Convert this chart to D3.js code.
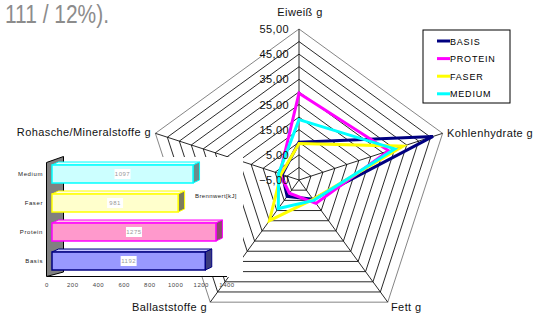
<!DOCTYPE html>
<html>
<head>
<meta charset="utf-8">
<script src="https://cdn.jsdelivr.net/npm/d3@7/dist/d3.min.js"></script>
<style>
  body { margin: 0; background: #fff; }
  text { font-family: "Liberation Sans", Arial, sans-serif; }
</style>
</head>
<body>
<script>
// radar chart (nutrients per series) with a small 3D bar chart of Brennwert laid over it

// radar axes, clockwise from the top
let axes = ["Eiweiß g", "Kohlenhydrate g", "Fett g", "Ballaststoffe g", "Rohasche/Mineralstoffe g"]
let seriesNames = ["BASIS", "PROTEIN", "FASER", "MEDIUM"]
let basis = [10, 51, 4.5, 3, 2]
let protein = [29.5, 32.5, 6.5, 1.5, 3]
let faser = [9.5, 38.5, 4.5, 15, 2.5]
let medium = [19, 35, 5, 9, 3.5]
let radarTicks = [-5, 5, 15, 25, 35, 45, 55]

// bar chart values
let barCats = ["Medium", "Faser", "Protein", "Basis"]
let brennwert = [1097, 981, 1275, 1192]
let barTicks = [0, 200, 400, 600, 800, 1000, 1200, 1400]

let seriesColors = ["#000080", "#ff00ff", "#ffff00", "#00ffff"]

let width = 542, height = 316

let svg = d3.select("body")
    .append("svg")
    .attr("width", width)
    .attr("height", height)

// leftover text from the page the chart was cut out of
svg.append("text")
    .attr("x", 5)
    .attr("y", 23)
    .attr("textLength", 104)
    .attr("lengthAdjust", "spacingAndGlyphs")
    .text("111 / 12%).")
    .style("font-size", "25px")
    .style("fill", "#8c8c8c")

// ---------- radar ----------
let cx = 299, cy = 180
let rScale = d3.scaleLinear().domain([-5, 55]).range([0, 151])

function pt(i, v) {
    let a = i * 2 * Math.PI / axes.length
    let r = rScale(v)
    return [cx + r * Math.sin(a), cy - r * Math.cos(a)]
}

// rings every 5 units
let rings = d3.range(0, 56, 5)
let lineGen = d3.line()

svg.append("g")
    .selectAll("path")
    .data(rings).enter()
    .append("path")
    .attr("d", function (v) {
        return lineGen(axes.map(function (d, i) { return pt(i, v) })) + "Z"
    })
    .attr("fill", "none")
    .attr("stroke", function (v) { return v == 55 ? "#777" : "#111" })
    .attr("stroke-width", 0.9)

// spokes
svg.append("g")
    .selectAll("line")
    .data(axes).enter()
    .append("line")
    .attr("x1", cx).attr("y1", cy)
    .attr("x2", function (d, i) { return pt(i, 55)[0] })
    .attr("y2", function (d, i) { return pt(i, 55)[1] })
    .attr("stroke", "#111")
    .attr("stroke-width", 0.9)

// axis names
let labelPos = [
    { x: cx + 1, y: 16, anchor: "middle" },
    { x: 447, y: 137, anchor: "start" },
    { x: 391, y: 311, anchor: "start" },
    { x: 207, y: 311, anchor: "end" },
    { x: 151, y: 136, anchor: "end" }
]
svg.append("g")
    .selectAll("text")
    .data(axes).enter()
    .append("text")
    .attr("x", function (d, i) { return labelPos[i].x })
    .attr("y", function (d, i) { return labelPos[i].y })
    .attr("text-anchor", function (d, i) { return labelPos[i].anchor })
    .text(function (d) { return d })
    .style("font-size", "11px")
    .style("letter-spacing", "0.4px")
    .style("fill", "#111")

// the four series
let allSeries = [basis, protein, faser, medium]
svg.append("g")
    .selectAll("path")
    .data(allSeries).enter()
    .append("path")
    .attr("d", function (s) {
        return lineGen(s.map(function (v, i) { return pt(i, v) })) + "Z"
    })
    .attr("fill", "none")
    .attr("stroke", function (s, k) { return seriesColors[k] })
    .attr("stroke-width", 3)
    .attr("stroke-linejoin", "miter")

// legend
svg.append("rect")
    .attr("x", 423).attr("y", 30)
    .attr("width", 87).attr("height", 73)
    .attr("fill", "#fff")
    .attr("stroke", "#000")

let legend = svg.append("g")
    .selectAll("g")
    .data(seriesNames).enter()
    .append("g")
    .attr("transform", function (d, k) { return `translate(437,${41 + k * 17.6})` })

legend.append("line")
    .attr("x1", 0).attr("x2", 13)
    .attr("stroke", function (d, k) { return seriesColors[k] })
    .attr("stroke-width", 3)

legend.append("text")
    .attr("x", 13)
    .attr("y", 3.5)
    .text(function (d) { return d })
    .style("font-size", "9px")
    .style("letter-spacing", "0.8px")
    .style("fill", "#000")

// ---------- 3D bar chart ----------
let barFront = ["#ccffff", "#ffffcc", "#ff99cc", "#9999ff"]
let barStroke = ["#00ffff", "#ffff00", "#ff00ff", "#000080"]
let barSide = ["#6a8c8c", "#7c7c5c", "#8a4c6a", "#3c3c7c"]
let barTop = ["#e6ffff", "#ffffe6", "#ffc6e2", "#c4c4ff"]

// plot area background hides the radar
svg.append("rect")
    .attr("x", 40).attr("y", 157)
    .attr("width", 203).attr("height", 120)
    .attr("fill", "#fff")

// value labels on the top axis, on top of the series lines
svg.append("g")
    .selectAll("text")
    .data(radarTicks).enter()
    .append("text")
    .attr("x", cx - 10)
    .attr("y", function (v) { return pt(0, v)[1] + 4 })
    .attr("text-anchor", "end")
    .text(function (v) { return d3.format(".2f")(v).replace(".", ",") })
    .style("font-size", "11px")
    .style("letter-spacing", "0.4px")
    .style("fill", "#111")

let xScale = d3.scaleLinear().domain([0, 1400]).range([47, 227])
let yScale = d3.scaleBand().domain(barCats)
    .range([159.5, 275.5])
    .paddingInner(0.38)
    .paddingOuter(0.19)

// back wall
svg.append("path")
    .attr("d", "M46.5,162.5 L63.5,156.5 L63.5,272 L46.5,276.5 Z")
    .attr("fill", "#808080")
    .attr("stroke", "#000")
    .attr("stroke-width", 1)

// x axis line
svg.append("line")
    .attr("x1", xScale(0)).attr("x2", xScale(1400))
    .attr("y1", 276.5).attr("y2", 276.5)
    .attr("stroke", "#000")

svg.append("g")
    .selectAll("text")
    .data(barTicks).enter()
    .append("text")
    .attr("x", function (d) { return xScale(d) })
    .attr("y", 286.5)
    .attr("text-anchor", "middle")
    .text(function (d) { return d })
    .style("font-size", "6px")
    .style("letter-spacing", "0.5px")
    .style("fill", "#444")

let dx = 6.5, dy = -3, shift = 5
let bars = svg.append("g")
    .selectAll("g")
    .data(barCats).enter()
    .append("g")

bars.append("path")
    .attr("d", function (c, k) {
        let x0 = xScale(0) + shift, x1 = xScale(brennwert[k]) + shift, y0 = yScale(c)
        return `M${x0},${y0} L${x0 + dx},${y0 + dy} L${x1 + dx},${y0 + dy} L${x1},${y0} Z`
    })
    .attr("fill", function (c, k) { return barTop[k] })
    .attr("stroke", function (c, k) { return barStroke[k] })
    .attr("stroke-width", 1)

bars.append("path")
    .attr("d", function (c, k) {
        let x1 = xScale(brennwert[k]) + shift, y0 = yScale(c), y1 = y0 + yScale.bandwidth()
        return `M${x1},${y0} L${x1 + dx},${y0 + dy} L${x1 + dx},${y1 + dy} L${x1},${y1} Z`
    })
    .attr("fill", function (c, k) { return barSide[k] })
    .attr("stroke", function (c, k) { return barStroke[k] })
    .attr("stroke-width", 1)

bars.append("rect")
    .attr("x", xScale(0) + shift)
    .attr("y", function (c) { return yScale(c) })
    .attr("width", function (c, k) { return xScale(brennwert[k]) - xScale(0) })
    .attr("height", yScale.bandwidth())
    .attr("fill", function (c, k) { return barFront[k] })
    .attr("stroke", function (c, k) { return barStroke[k] })
    .attr("stroke-width", 1.5)

// value label boxes
bars.append("rect")
    .attr("x", function (c, k) { return (xScale(0) + xScale(brennwert[k])) / 2 + shift - 8 })
    .attr("y", function (c) { return yScale(c) + yScale.bandwidth() / 2 - 5 })
    .attr("width", 16).attr("height", 10)
    .attr("fill", "#fff")

bars.append("text")
    .attr("x", function (c, k) { return (xScale(0) + xScale(brennwert[k])) / 2 + shift })
    .attr("y", function (c) { return yScale(c) + yScale.bandwidth() / 2 + 2 })
    .attr("text-anchor", "middle")
    .text(function (c, k) { return brennwert[k] })
    .style("font-size", "6px")
    .style("letter-spacing", "0.5px")
    .style("fill", "#999")

// category names
svg.append("g")
    .selectAll("text")
    .data(barCats).enter()
    .append("text")
    .attr("x", 43)
    .attr("y", function (c) { return yScale(c) + yScale.bandwidth() / 2 + 2 })
    .attr("text-anchor", "end")
    .text(function (c) { return c })
    .style("font-size", "6px")
    .style("letter-spacing", "0.6px")
    .style("fill", "#222")

svg.append("text")
    .attr("x", 195)
    .attr("y", 198)
    .text("Brennwert[kJ]")
    .style("font-size", "6px")
    .style("letter-spacing", "0.4px")
    .style("fill", "#222")
</script>
</body>
</html>
